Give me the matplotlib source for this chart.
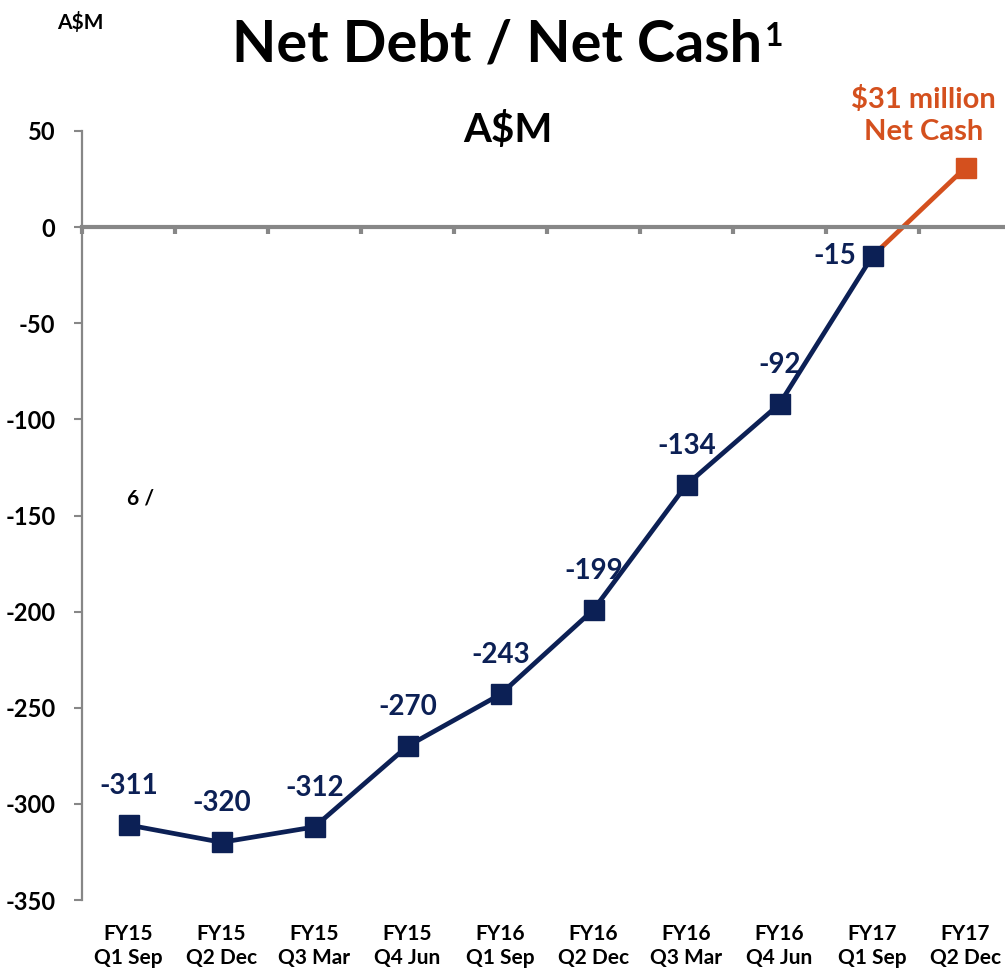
import matplotlib
matplotlib.use("Agg")
import matplotlib.pyplot as plt
from matplotlib.ticker import FixedLocator, NullFormatter

plt.rcParams['font.family'] = ['Lato', 'DejaVu Sans']

quarters = ["FY15\nQ1 Sep", "FY15\nQ2 Dec", "FY15\nQ3 Mar", "FY15\nQ4 Jun",
            "FY16\nQ1 Sep", "FY16\nQ2 Dec", "FY16\nQ3 Mar", "FY16\nQ4 Jun",
            "FY17\nQ1 Sep", "FY17\nQ2 Dec"]
net_debt = [-311, -320, -312, -270, -243, -199, -134, -92, -15]
net_cash_latest = 31
y_ticks = [50, 0, -50, -100, -150, -200, -250, -300, -350]

NAVY = "#0C2055"
ORANGE = "#D4501E"
GREY = "#878787"

fig = plt.figure(figsize=(10.05, 9.72), dpi=100)
ax = fig.add_axes([82 / 1005, 1 - 900 / 972, 930 / 1005, (900 - 131) / 972])

x = list(range(len(quarters)))
n = len(net_debt)

# orange segment from last net-debt quarter to the net-cash quarter
ax.plot([x[n - 1], x[n]], [net_debt[-1], net_cash_latest], color=ORANGE,
        lw=3.4, zorder=2, solid_capstyle='butt')
ax.plot(x[n], net_cash_latest, marker='s', markersize=14, color=ORANGE,
        linestyle='none', zorder=3)
ax.plot(x[:n], net_debt, color=NAVY, lw=3.4, marker='s', markersize=14,
        zorder=4)

# value labels
for xi, v in zip(x[:n], net_debt):
    offset = (-27, 0) if xi == n - 1 else (0, 28)
    ax.annotate(f"{v}", (xi, v), xytext=offset, textcoords='offset points',
                ha='center', va='center', fontsize=20, fontweight='bold',
                color=NAVY)

ax.text(x[n] - 0.45, 58, "$31 million\nNet Cash", ha='center', va='center',
        fontsize=21, fontweight='bold', color=ORANGE, linespacing=1.25,
        clip_on=False)

ax.set_xlim(-0.5, len(quarters) - 0.5)
ax.set_ylim(-350, 50)

# left axis
ax.set_yticks(y_ticks)
ax.set_yticklabels([str(t) for t in y_ticks], fontsize=17, fontweight='bold')
ax.tick_params(axis='y', direction='out', length=6, width=1.5, color=GREY,
               pad=13)
ax.spines['left'].set_color(GREY)
ax.spines['left'].set_linewidth(1.6)
for s in ('top', 'right'):
    ax.spines[s].set_visible(False)

# zero line with ticks on the category boundaries
ax.spines['bottom'].set_position(('data', 0))
ax.spines['bottom'].set_color(GREY)
ax.spines['bottom'].set_linewidth(3)
ax.xaxis.set_major_locator(FixedLocator([i - 0.5 for i in range(len(quarters) + 1)]))
ax.xaxis.set_major_formatter(NullFormatter())
ax.tick_params(axis='x', direction='out', length=5, width=3, color=GREY)

# category labels along the bottom edge
cat_axis = ax.secondary_xaxis('bottom')
cat_axis.spines['bottom'].set_visible(False)
cat_axis.set_xticks(x)
cat_axis.set_xticklabels(quarters, fontsize=15, fontweight='bold',
                         linespacing=1.3)
cat_axis.tick_params(axis='x', length=0, pad=17)

fig.text(497 / 1005, 1 - 45 / 972, "Net Debt / Net Cash", ha='center',
         va='center', fontsize=41.5, fontweight='bold', color='black')
fig.text(774 / 1005, 1 - 36 / 972, "1", ha='center', va='center',
         fontsize=23, fontweight='bold', color='black')
fig.text(508 / 1005, 1 - 130 / 972, "A$M", ha='center', va='center',
         fontsize=29, fontweight='bold', color='black')
fig.text(80 / 1005, 1 - 22 / 972, "A$M", ha='center', va='center',
         fontsize=15, fontweight='bold', color='black')
fig.text(141 / 1005, 1 - 498 / 972, "6 /", ha='center', va='center',
         fontsize=15, fontweight='bold', color='black')

fig.savefig("out.png", dpi=100)
